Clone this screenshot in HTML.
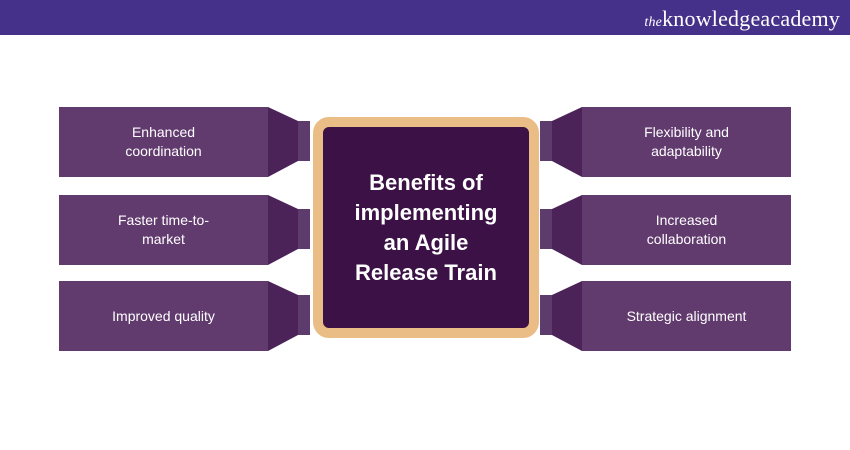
<!DOCTYPE html>
<html><head><style>
body{margin:0;width:850px;height:450px;background:#fff;position:relative;overflow:hidden;font-family:"Liberation Sans",sans-serif}
.hdr{position:absolute;left:0;top:0;width:850px;height:35px;background:#45308a}
.logo{position:absolute;right:10px;top:6px;color:#fff;font-family:"Liberation Serif",serif;font-size:22px;letter-spacing:0.2px}
.logo i{font-size:14px}
.box{position:absolute;width:209px;height:70px;background:#613a6e;color:#fff;font-size:14px;display:flex;align-items:center;justify-content:center;text-align:center;line-height:19px}
.ctr{position:absolute;left:313px;top:117px;width:206px;height:201px;border:10px solid #ebbd86;border-radius:16px;background:#3b1146;color:#fff;font-size:22px;font-weight:bold;line-height:30px;display:flex;align-items:center;justify-content:center;text-align:center}
</style></head><body>
<div class="hdr"><div class="logo"><i>the</i>knowledgeacademy</div></div>
<svg width="850" height="450" style="position:absolute;left:0;top:0">
<g id="c">
<polygon points="268,107 298,121 298,161 268,177" fill="#4b2358"/>
<rect x="298" y="121" width="12" height="40" fill="#5d3b6c"/>
</g>
<use href="#c" y="88"/>
<use href="#c" y="174"/>
<g transform="translate(850,0) scale(-1,1)">
<use href="#c"/><use href="#c" y="88"/><use href="#c" y="174"/>
</g>
</svg>
<div class="box" style="left:59px;top:107px">Enhanced<br>coordination</div>
<div class="box" style="left:59px;top:195px">Faster time-to-<br>market</div>
<div class="box" style="left:59px;top:281px">Improved quality</div>
<div class="box" style="left:582px;top:107px">Flexibility and<br>adaptability</div>
<div class="box" style="left:582px;top:195px">Increased<br>collaboration</div>
<div class="box" style="left:582px;top:281px">Strategic alignment</div>
<div class="ctr">Benefits of<br>implementing<br>an Agile<br>Release Train</div>
</body></html>
